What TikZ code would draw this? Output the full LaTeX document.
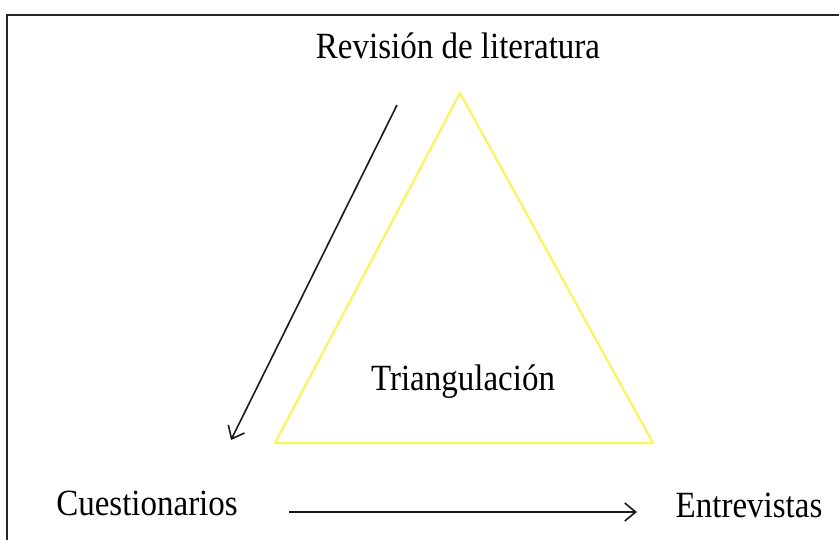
\documentclass[tikz,border=0pt]{standalone}
\usepackage{fontspec}
\setmainfont{Liberation Serif}
\usetikzlibrary{arrows.meta}
\definecolor{triyellow}{RGB}{250,245,90}
\tikzset{
  lbl/.style={anchor=base, inner sep=0pt, font=\fontsize{33}{39}\selectfont, yscale=1.12},
  conn/.style={draw=black!90, line width=1.6pt, -{Straight Barb[length=11pt,width=18pt,line width=1.6pt]}},
  frame/.style={draw=black!85, line width=2.2pt},
  tri/.style={draw=triyellow, line width=2.2pt, line join=miter}
}
\begin{document}
\begin{tikzpicture}[x=1pt,y=-1pt]
\useasboundingbox (0,0) rectangle (839,539);
\draw[frame] (7,560) -- (7,15) -- (860,15);
\coordinate (apex) at (460,93);
\coordinate (bl) at (275,443);
\coordinate (br) at (653,443);
\draw[tri] (apex) -- (bl) -- (br) -- cycle;
\node[lbl] (rev) at (458,58) {Revisión de literatura};
\node[lbl] (tri) at (463,390) {Triangulación};
\node[lbl] (cue) at (147,515) {Cuestionarios};
\node[lbl] (ent) at (749,517) {Entrevistas};
\coordinate (a1s) at (397,105);
\coordinate (a1e) at (231,440);
\coordinate (a2s) at (289,512);
\coordinate (a2e) at (637,512);
\draw[conn] (a1s) -- (a1e);
\draw[conn] (a2s) -- (a2e);
\end{tikzpicture}
\end{document}
